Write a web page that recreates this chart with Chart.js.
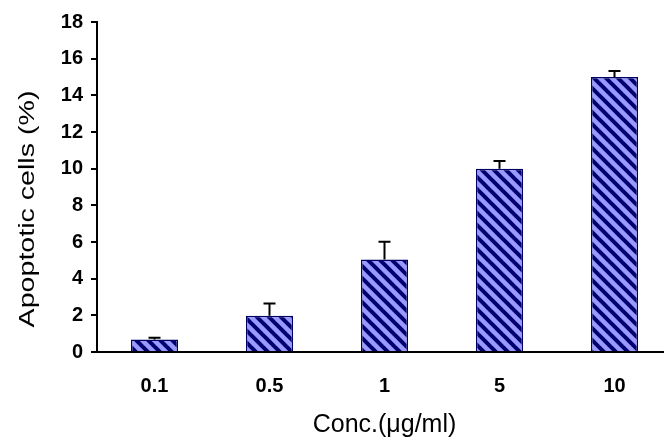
<!DOCTYPE html>
<html>
<head>
<meta charset="utf-8">
<script src="https://cdn.jsdelivr.net/npm/chart.js@4"></script>
<style>
  html, body { margin: 0; padding: 0; background: #fff; overflow: hidden; }
  #wrap { position: relative; width: 680px; height: 441px; }
</style>
</head>
<body>
<div id="wrap"><canvas id="barChart"></canvas></div>
<script>
const categories = ['0.1', '0.5', '1', '5', '10'];
const apoptotic = [0.68, 1.98, 5.05, 10.0, 15.0];
const errors = [0.1, 0.66, 0.97, 0.42, 0.33];
const yMax = 18;
const yStep = 2;
const yTitle = 'Apoptotic cells (%)';
const xTitle = 'Conc.(μg/ml)';

const tickFont = { family: '"Liberation Sans", Arial, sans-serif', size: 20, weight: 'bold' };

// hatch fill for the bars
function hatch() {
  const n = 12;
  const c = document.createElement('canvas');
  c.width = n; c.height = n;
  const g = c.getContext('2d');
  g.fillStyle = '#9999ff';
  g.fillRect(0, 0, n, n);
  g.strokeStyle = '#000070';
  g.lineWidth = 4;
  [-n, 0, n].forEach(k => {
    g.beginPath();
    g.moveTo(-2, -2 + k);
    g.lineTo(n + 2, n + 2 + k);
    g.stroke();
  });
  return g.createPattern(c, 'repeat');
}

const errorBars = {
  id: 'errorBars',
  afterDatasetsDraw(chart) {
    const ctx = chart.ctx;
    const y = chart.scales.y;
    const meta = chart.getDatasetMeta(0);
    ctx.save();
    ctx.strokeStyle = '#000';
    ctx.lineWidth = 2;
    meta.data.forEach((bar, i) => {
      const top = y.getPixelForValue(apoptotic[i] + errors[i]);
      ctx.beginPath();
      ctx.moveTo(bar.x, bar.y);
      ctx.lineTo(bar.x, top);
      ctx.moveTo(bar.x - 6, top);
      ctx.lineTo(bar.x + 6, top);
      ctx.stroke();
    });
    ctx.restore();
  }
};

// y title: the source figure has it stretched along its length
const yTitlePlugin = {
  id: 'yTitle',
  afterDraw(chart) {
    const ctx = chart.ctx;
    ctx.save();
    ctx.translate(28, 209);
    ctx.rotate(-Math.PI / 2);
    ctx.scale(1.3, 1);
    ctx.font = '22px "Liberation Sans", Arial, sans-serif';
    ctx.fillStyle = '#000';
    ctx.textAlign = 'center';
    ctx.textBaseline = 'middle';
    ctx.fillText(yTitle, 0, 0);
    ctx.restore();
  }
};

const ctx = document.getElementById('barChart');
new Chart(ctx, {
  type: 'bar',
  data: {
    labels: categories,
    datasets: [{
      data: apoptotic,
      backgroundColor: hatch(),
      borderColor: '#000060',
      borderWidth: 1.5,
      categoryPercentage: 1,
      barPercentage: 0.41
    }]
  },
  options: {
    responsive: true,
    maintainAspectRatio: false,
    animation: false,
    layout: { padding: { top: 22, right: 8, left: 0, bottom: 0 } },
    plugins: { legend: { display: false }, tooltip: { enabled: false } },
    scales: {
      x: {
        afterFit: s => { s.height = 89; },
        grid: { display: false, drawTicks: false },
        border: { display: true, color: '#000', width: 2 },
        ticks: { color: '#000', font: tickFont, padding: 22 },
        title: {
          display: true,
          text: xTitle,
          color: '#000',
          font: { family: '"Liberation Sans", Arial, sans-serif', size: 25 },
          padding: { top: 0, bottom: 1 }
        }
      },
      y: {
        min: 0,
        max: yMax,
        afterFit: s => { s.width = 97; },
        grid: { drawOnChartArea: false, drawTicks: true, tickLength: 6, color: '#000', lineWidth: 2 },
        border: { display: true, color: '#000', width: 2 },
        ticks: { stepSize: yStep, color: '#000', font: tickFont, padding: 8 }
      }
    }
  },
  plugins: [errorBars, yTitlePlugin]
});
</script>
</body>
</html>
